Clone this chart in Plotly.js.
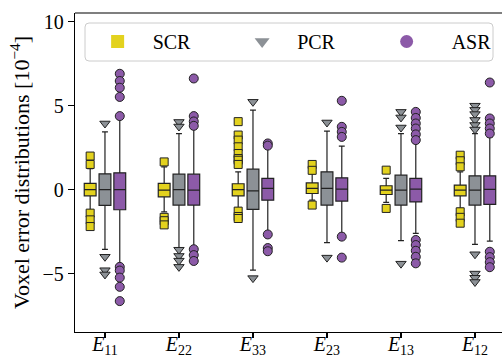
<!DOCTYPE html>
<html>
<head>
<meta charset="utf-8">
<script src="https://cdn.plot.ly/plotly-3.0.1.min.js"></script>
<style>html,body{margin:0;padding:0;background:#fff;}#chart{width:502px;height:358px;}</style>
</head>
<body>
<div id="chart"></div>
<script>
// ---- data (units of 1e-4) ----
const categories = ["E11", "E22", "E33", "E23", "E13", "E12"];
const tickLabels = ["<i>E</i><sub>11</sub>", "<i>E</i><sub>22</sub>", "<i>E</i><sub>33</sub>",
                    "<i>E</i><sub>23</sub>", "<i>E</i><sub>13</sub>", "<i>E</i><sub>12</sub>"];
const seriesNames = ["SCR", "PCR", "ASR"];

const scrQ1     = [-0.37, -0.43, -0.37, -0.23, -0.29, -0.37];
const scrMedian = [0.00, -0.03, 0.00, 0.07, -0.03, -0.03];
const scrQ3     = [0.37, 0.37, 0.35, 0.40, 0.23, 0.27];
const scrLow    = [-1.22, -1.32, -1.08, -0.62, -0.76, -1.12];
const scrHigh   = [1.25, 1.36, 1.06, 0.95, 0.67, 1.06];
const scrOutliers = [
  [2.0, 1.5, -1.4, -1.8, -2.2],
  [1.65, -1.65, -1.85, -2.1],
  [4.05, 3.25, 2.95, 2.55, 2.15, 1.85, 1.75, 1.5, -1.28, -1.6, -1.72],
  [1.5, 1.15, -0.92],
  [1.16, -1.12],
  [2.05, 1.72, 1.36, -1.32, -1.65, -2.0]
];

const pcrQ1     = [-0.94, -0.92, -1.18, -0.92, -0.92, -0.92];
const pcrMedian = [0.00, 0.00, -0.07, 0.07, -0.03, -0.03];
const pcrQ3     = [0.94, 0.92, 1.22, 1.06, 0.86, 0.82];
const pcrLow    = [-3.56, -3.46, -4.80, -3.16, -3.04, -3.26];
const pcrHigh   = [3.44, 3.34, 4.73, 3.48, 3.34, 3.34];
const pcrOutliers = [
  [3.94, -4.0, -4.8, -5.05],
  [4.03, 3.76, -3.58, -3.95, -4.23, -4.6],
  [5.23, -5.27],
  [4.0, -4.05],
  [4.63, 4.3, 3.7, -4.41],
  [5.0, 4.75, 4.5, 4.15, 3.85, 3.58, -3.85, -5.0, -5.25, -5.5]
];

const asrQ1     = [-1.20, -0.92, -0.63, -0.68, -0.73, -0.88];
const asrMedian = [0.00, -0.03, 0.07, 0.03, 0.03, 0.01];
const asrQ3     = [1.00, 0.92, 0.67, 0.70, 0.67, 0.82];
const asrLow    = [-4.45, -3.40, -2.50, -2.60, -2.61, -3.07];
const asrHigh   = [4.20, 3.60, 2.50, 2.59, 2.75, 3.14];
const asrOutliers = [
  [6.9, 6.47, 6.07, 5.52, 4.38, -4.6, -4.82, -5.24, -5.79, -6.64],
  [6.62, 4.38, 4.06, 3.8, -3.55, -3.9, -4.25],
  [2.75, 2.62, -2.67, -3.48, -3.67],
  [5.29, 3.74, 3.44, 3.14, -2.8, -4.05],
  [4.63, 4.27, 3.94, 3.64, 3.29, 2.95, -3.0, -3.3, -3.64, -4.0, -4.39],
  [6.38, 4.24, 3.94, 3.64, 3.34, -3.7, -4.02, -4.32, -4.62]
];

// ---- styling ----
const fills = ["#E3D21E", "#8C9196", "#8C5AA8"];
const symbols = ["square", "triangle-down", "circle"];
const markerSizes = [8, 9, 9];
const offsets = [-0.2, 0, 0.2];
const legendWidths = [99.5, 99.5, 70];
const legendPads = [3, 3, 5];
const boxWidth = 0.16;
const FONT = "Liberation Serif, Times New Roman, serif";

const stats = [
  {q1: scrQ1, med: scrMedian, q3: scrQ3, lo: scrLow, hi: scrHigh, out: scrOutliers},
  {q1: pcrQ1, med: pcrMedian, q3: pcrQ3, lo: pcrLow, hi: pcrHigh, out: pcrOutliers},
  {q1: asrQ1, med: asrMedian, q3: asrQ3, lo: asrLow, hi: asrHigh, out: asrOutliers}
];

const traces = [];
stats.forEach((s, k) => {
  const pos = categories.map((_, i) => i + offsets[k]);
  traces.push({
    type: "box", name: seriesNames[k], showlegend: false,
    x: pos, q1: s.q1, median: s.med, q3: s.q3, lowerfence: s.lo, upperfence: s.hi,
    width: boxWidth, whiskerwidth: 0.5,
    fillcolor: fills[k], line: {color: "#222", width: 1.2},
    hoverinfo: "skip"
  });
  const ox = [], oy = [];
  s.out.forEach((arr, i) => arr.forEach(v => { ox.push(i + offsets[k]); oy.push(v); }));
  traces.push({
    type: "scatter", mode: "markers", name: seriesNames[k], showlegend: false,
    x: ox, y: oy,
    marker: {symbol: symbols[k], size: markerSizes[k], color: fills[k], line: {color: "#222", width: 1}}
  });
});
// legend-only entries
seriesNames.forEach((n, k) => {
  traces.push({
    type: "scatter", mode: "markers", name: "\u00a0".repeat(legendPads[k]) + n, x: [null], y: [null],
    legendwidth: legendWidths[k],
    marker: {symbol: symbols[k], size: 13, color: fills[k], line: {width: 0}}
  });
});

// rounded legend frame in paper coords
const W = 427, H = 319;
const bx0 = (85 - 75) / W, bx1 = (493 - 75) / W;
const by0 = (332 - 61) / H, by1 = (332 - 23) / H;
const rx = 4 / W, ry = 4 / H;
const framePath =
  `M ${bx0 + rx} ${by1} L ${bx1 - rx} ${by1} Q ${bx1} ${by1} ${bx1} ${by1 - ry} ` +
  `L ${bx1} ${by0 + ry} Q ${bx1} ${by0} ${bx1 - rx} ${by0} L ${bx0 + rx} ${by0} ` +
  `Q ${bx0} ${by0} ${bx0} ${by0 + ry} L ${bx0} ${by1 - ry} Q ${bx0} ${by1} ${bx0 + rx} ${by1} Z`;

const layout = {
  width: 502, height: 358,
  margin: {l: 75, r: 0, t: 13, b: 26, pad: 0},
  paper_bgcolor: "#fff", plot_bgcolor: "#fff",
  font: {family: FONT, color: "#000", size: 19},
  showlegend: true,
  boxmode: "overlay",
  xaxis: {
    range: [-0.405, 5.365], tickvals: categories.map((_, i) => i), ticktext: tickLabels,
    showgrid: false, zeroline: false, showline: true, linecolor: "#000", linewidth: 1.2,
    ticks: "outside", ticklen: 5, tickwidth: 1.1, tickcolor: "#000",
    ticklabelstandoff: -11,
    tickfont: {family: FONT, size: 20, color: "#000"}
  },
  yaxis: {
    range: [-8.48, 10.52], tickvals: [-5, 0, 5, 10],
    showgrid: false, zeroline: false, showline: true, linecolor: "#000", linewidth: 1.2,
    ticks: "outside", ticklen: 6, tickwidth: 1.1, tickcolor: "#000",
    tickfont: {family: FONT, size: 20, color: "#000"},
    title: {text: "Voxel error distributions [10<sup>−4</sup>]", font: {family: FONT, size: 22, color: "#000"}, standoff: 6}
  },
  legend: {
    orientation: "h", x: 0.053, xanchor: "left", y: 0.9107, yanchor: "middle",
    itemwidth: 30, entrywidthmode: "pixels",
    bgcolor: "rgba(0,0,0,0)", borderwidth: 0,
    font: {family: FONT, size: 20, color: "#000"}
  },
  shapes: [
    {type: "line", xref: "paper", yref: "paper", x0: 0, x1: 1, y0: 1, y1: 1, line: {color: "#000", width: 1.2}},
    {type: "path", xref: "paper", yref: "paper", path: framePath, fillcolor: "rgba(255,255,255,0.8)", line: {color: "#cccccc", width: 1}, layer: "above"}
  ]
};

Plotly.newPlot("chart", traces, layout, {displayModeBar: false, staticPlot: true});
</script>
</body>
</html>
